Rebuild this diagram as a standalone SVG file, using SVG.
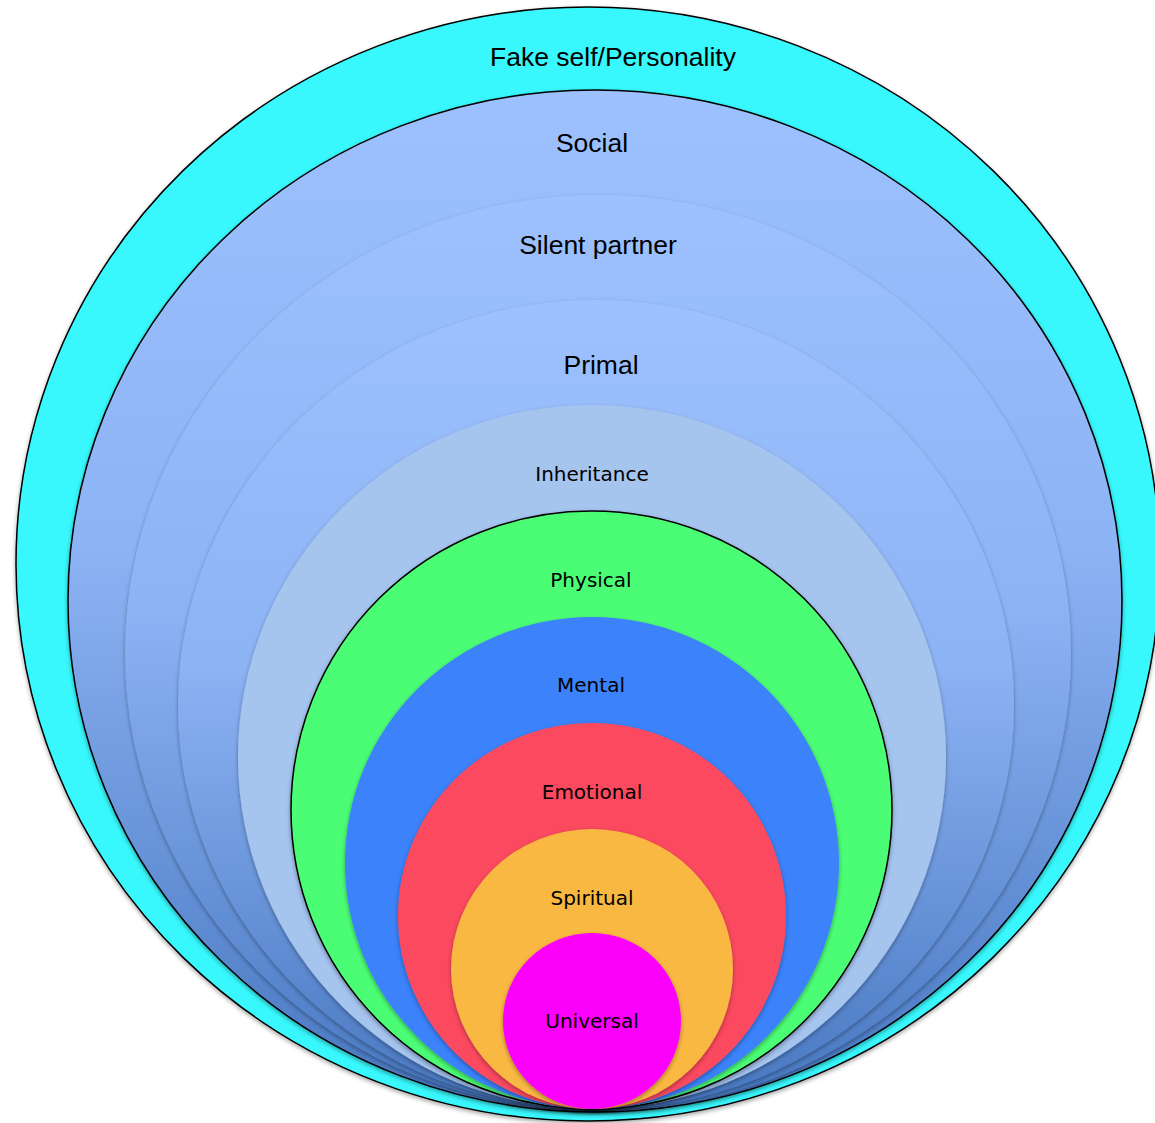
<svg xmlns="http://www.w3.org/2000/svg" width="1155" height="1123" viewBox="0 0 1155 1123">
  <defs>
    <linearGradient id="blueGrad" x1="0" y1="0" x2="0" y2="1">
      <stop offset="0" stop-color="#9dc1fe"/>
      <stop offset="0.45" stop-color="#8cb3f4"/>
      <stop offset="1" stop-color="#4777c0"/>
    </linearGradient>
    <filter id="shadow" x="-5%" y="-5%" width="110%" height="112%">
      <feDropShadow dx="0" dy="2" stdDeviation="2" flood-color="#000" flood-opacity="0.35"/>
    </filter>
    <style>
      .ring { filter: url(#shadow); }
      .stroked { stroke: #000; stroke-width: 1.5; }
      .big { font-family: "Liberation Sans", Arial, sans-serif; font-size: 26.5px; fill: #000; text-anchor: middle; }
      .small { font-family: "DejaVu Sans", "Lucida Grande", sans-serif; font-size: 20px; fill: #000; text-anchor: middle; }
    </style>
  </defs>
  <rect width="1155" height="1123" fill="#fff"/>

  <g id="fake-self">
    <ellipse class="ring stroked" cx="588" cy="564" rx="572" ry="557" fill="#38f8fd"/>
    <text class="big" x="613" y="66">Fake self/Personality</text>
  </g>
  <g id="social">
    <ellipse class="ring stroked" cx="595" cy="601" rx="527" ry="511" fill="url(#blueGrad)"/>
    <text class="big" x="592" y="152">Social</text>
  </g>
  <g id="silent-partner">
    <ellipse class="ring" cx="598" cy="653" rx="473" ry="458" fill="url(#blueGrad)"/>
    <text class="big" x="598" y="254">Silent partner</text>
  </g>
  <g id="primal">
    <ellipse class="ring" cx="596" cy="705" rx="418" ry="405" fill="url(#blueGrad)"/>
    <text class="big" x="601" y="374">Primal</text>
  </g>
  <g id="inheritance">
    <ellipse class="ring" cx="592" cy="757" rx="354" ry="352" fill="#a5c4ee"/>
    <text class="small" x="592" y="481">Inheritance</text>
  </g>
  <g id="physical">
    <ellipse class="ring stroked" cx="591.5" cy="810" rx="300.5" ry="299" fill="#4cfd74"/>
    <text class="small" x="591" y="587">Physical</text>
  </g>
  <g id="mental">
    <ellipse class="ring" cx="592" cy="863" rx="247" ry="246" fill="#3b82fb"/>
    <text class="small" x="591" y="692">Mental</text>
  </g>
  <g id="emotional">
    <ellipse class="ring" cx="592" cy="916" rx="194" ry="193" fill="#fb4a5e"/>
    <text class="small" x="592" y="799">Emotional</text>
  </g>
  <g id="spiritual">
    <ellipse class="ring" cx="592" cy="969" rx="141" ry="140" fill="#f9b842"/>
    <text class="small" x="592" y="905">Spiritual</text>
  </g>
  <g id="universal">
    <ellipse class="ring" cx="592" cy="1021" rx="89" ry="88" fill="#fb00fb"/>
    <text class="small" x="592" y="1028">Universal</text>
  </g>
  <g id="connectors"/>
</svg>
